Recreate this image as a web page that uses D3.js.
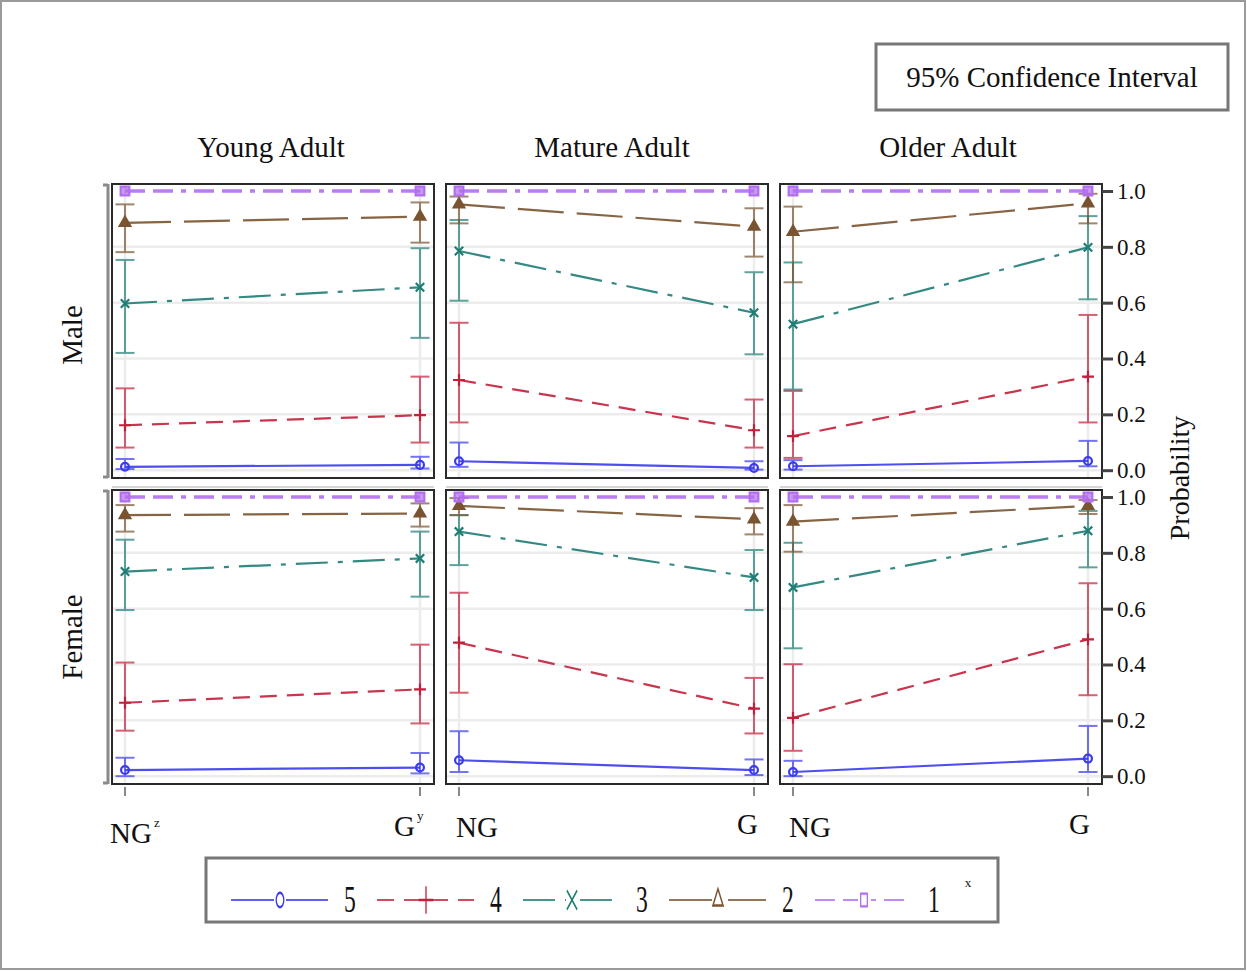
<!DOCTYPE html>
<html>
<head>
<meta charset="utf-8">
<script src="https://cdn.jsdelivr.net/npm/d3@7"></script>
<style>
  html, body { margin: 0; padding: 0; background: #fff; }
  svg { display: block; }
  text { font-family: "Liberation Serif", "Times New Roman", serif; fill: #111; }
</style>
</head>
<body>
<svg id="chart" width="1247" height="972"></svg>
<script>
// ---- categories ----
const columns = ["Young Adult", "Mature Adult", "Older Adult"];
const rows = ["Male", "Female"];
const groups = ["NG", "G"];
const levels = ["5", "4", "3", "2", "1"];
const yTicks = [0, 0.2, 0.4, 0.6, 0.8, 1.0];

// ---- cumulative probability estimates, [NG, G] for levels 5,4,3,2,1 ----
const maleYoungEst   = [[0.012, 0.019], [0.161, 0.197], [0.597, 0.655], [0.886, 0.908], [1, 1]];
const maleYoungLow   = [[0.004, 0.006], [0.081, 0.099], [0.420, 0.474], [0.781, 0.815], [1, 1]];
const maleYoungHigh  = [[0.040, 0.048], [0.293, 0.335], [0.753, 0.795], [0.952, 0.959], [1, 1]];

const maleMatureEst  = [[0.032, 0.008], [0.323, 0.143], [0.785, 0.564], [0.952, 0.872], [1, 1]];
const maleMatureLow  = [[0.012, 0.002], [0.171, 0.081], [0.607, 0.415], [0.884, 0.765], [1, 1]];
const maleMatureHigh = [[0.099, 0.032], [0.528, 0.253], [0.896, 0.709], [0.980, 0.938], [1, 1]];

const maleOlderEst   = [[0.014, 0.033], [0.122, 0.335], [0.523, 0.798], [0.854, 0.956], [1, 1]];
const maleOlderLow   = [[0.002, 0.014], [0.044, 0.171], [0.289, 0.612], [0.673, 0.884], [1, 1]];
const maleOlderHigh  = [[0.036, 0.105], [0.284, 0.556], [0.744, 0.910], [0.944, 0.990], [1, 1]];

const femaleYoungEst   = [[0.022, 0.031], [0.263, 0.311], [0.733, 0.780], [0.935, 0.941], [1, 1]];
const femaleYoungLow   = [[0.000, 0.010], [0.163, 0.189], [0.595, 0.643], [0.876, 0.894], [1, 1]];
const femaleYoungHigh  = [[0.066, 0.083], [0.407, 0.471], [0.847, 0.876], [0.971, 0.977], [1, 1]];

const femaleMatureEst  = [[0.057, 0.022], [0.478, 0.242], [0.876, 0.712], [0.968, 0.920], [1, 1]];
const femaleMatureLow  = [[0.015, 0.004], [0.299, 0.153], [0.756, 0.595], [0.935, 0.866], [1, 1]];
const femaleMatureHigh = [[0.161, 0.060], [0.657, 0.352], [0.935, 0.810], [0.996, 0.960], [1, 1]];

const femaleOlderEst   = [[0.015, 0.063], [0.209, 0.490], [0.676, 0.879], [0.912, 0.968], [1, 1]];
const femaleOlderLow   = [[0.000, 0.015], [0.091, 0.290], [0.458, 0.748], [0.804, 0.939], [1, 1]];
const femaleOlderHigh  = [[0.055, 0.180], [0.401, 0.691], [0.836, 0.950], [0.971, 0.989], [1, 1]];

// panel table built from the arrays above: [row][column]
const panels = [
  [ {est: maleYoungEst, lo: maleYoungLow, hi: maleYoungHigh},
    {est: maleMatureEst, lo: maleMatureLow, hi: maleMatureHigh},
    {est: maleOlderEst, lo: maleOlderLow, hi: maleOlderHigh} ],
  [ {est: femaleYoungEst, lo: femaleYoungLow, hi: femaleYoungHigh},
    {est: femaleMatureEst, lo: femaleMatureLow, hi: femaleMatureHigh},
    {est: femaleOlderEst, lo: femaleOlderLow, hi: femaleOlderHigh} ]
];

// ---- styles per level ----
const colors = {"5": "#3a3aee", "4": "#c21f3a", "3": "#1e7d74", "2": "#7a5430", "1": "#b26ef0"};
const dashes = {"5": null, "4": "17,10", "3": "32,10,5,10", "2": "46,13", "1": "20,8,20,8,5,8"};
const widths = {"5": 2.2, "4": 2.2, "3": 2.2, "2": 2.2, "1": 3.5};
const symbols = {"5": d3.symbolCircle, "4": d3.symbolPlus, "3": d3.symbolTimes, "2": d3.symbolTriangle, "1": d3.symbolSquare};

// ---- layout ----
const svg = d3.select("#chart");
const panelX = [112, 446, 780];
const panelY = [184, 490];
const headerShift = [-2, 5, 7];
const pw = 322, ph = 294;

const x = d3.scalePoint().domain(groups).range([13, 308]);
const y = d3.scaleLinear().domain([-0.028, 1.025]).range([ph, 0]);

// outer frame
svg.append("rect").attr("x", 1).attr("y", 1).attr("width", 1244).attr("height", 968)
  .attr("fill", "none").attr("stroke", "#9a9a9a").attr("stroke-width", 2);

// confidence interval box
svg.append("rect").attr("x", 876).attr("y", 44).attr("width", 352).attr("height", 66)
  .attr("fill", "#fff").attr("stroke", "#777").attr("stroke-width", 3);
svg.append("text").attr("x", 1052).attr("y", 87).attr("text-anchor", "middle")
  .style("font-size", "29px").text("95% Confidence Interval");

// column headers
columns.forEach((c, j) => {
  svg.append("text").attr("x", panelX[j] + pw / 2 + headerShift[j]).attr("y", 157)
    .attr("text-anchor", "middle").style("font-size", "29px").text(c);
});

// row headers
const rowCenters = [335, 637];
rows.forEach((r, i) => {
  svg.append("text").attr("transform", `translate(82,${rowCenters[i]}) rotate(-90)`)
    .attr("text-anchor", "middle").style("font-size", "29px").text(r);
});

// y axis title
svg.append("text").attr("transform", "translate(1189,478) rotate(-90)")
  .attr("text-anchor", "middle").style("font-size", "28px").text("Probability");

const line = d3.line().x((d, k) => x(groups[k])).y(d => y(d));

rows.forEach((r, i) => {
  columns.forEach((c, j) => {
    const p = panels[i][j];
    const g = svg.append("g").attr("transform", `translate(${panelX[j]},${panelY[i]})`);

    // strip separator line above each bottom-row panel
    if (i === 1) {
      svg.append("line").attr("x1", panelX[j]).attr("x2", panelX[j] + pw)
        .attr("y1", panelY[i] - 3).attr("y2", panelY[i] - 3)
        .attr("stroke", "#c8c8c8").attr("stroke-width", 1.5);
    }

    // grid
    g.selectAll(".hg").data(yTicks.slice(0, 5)).join("line")
      .attr("x1", 0).attr("x2", pw).attr("y1", d => y(d)).attr("y2", d => y(d))
      .attr("stroke", "#ececec").attr("stroke-width", 2.5);
    g.selectAll(".vg").data(groups).join("line")
      .attr("x1", d => x(d)).attr("x2", d => x(d)).attr("y1", 0).attr("y2", ph)
      .attr("stroke", "#ececec").attr("stroke-width", 2.5);

    // error bars
    levels.forEach((lv, s) => {
      if (lv === "1") return;
      groups.forEach((gr, k) => {
        const lo = p.lo[s][k], hi = p.hi[s][k];
        const eb = g.append("g").attr("stroke", colors[lv]).attr("stroke-width", 2).attr("opacity", 0.7);
        eb.append("line").attr("x1", x(gr)).attr("x2", x(gr)).attr("y1", y(lo)).attr("y2", y(hi));
        eb.append("line").attr("x1", x(gr) - 9.5).attr("x2", x(gr) + 9.5).attr("y1", y(lo)).attr("y2", y(lo));
        eb.append("line").attr("x1", x(gr) - 9.5).attr("x2", x(gr) + 9.5).attr("y1", y(hi)).attr("y2", y(hi));
      });
    });

    // lines and markers
    levels.forEach((lv, s) => {
      g.append("path").datum(p.est[s]).attr("d", line)
        .attr("fill", "none").attr("stroke", colors[lv]).attr("stroke-width", widths[lv])
        .attr("stroke-dasharray", dashes[lv]).attr("opacity", 0.9);
      groups.forEach((gr, k) => {
        const sym = d3.symbol().type(symbols[lv]).size(lv === "1" ? 75 : 48);
        g.append("path").attr("d", sym())
          .attr("transform", `translate(${x(gr)},${y(p.est[s][k])})`)
          .attr("fill", lv === "2" || lv === "1" ? colors[lv] : "none")
          .attr("fill-opacity", lv === "1" ? 0.7 : 1)
          .attr("stroke", colors[lv]).attr("stroke-width", 2.2);
      });
    });

    // frame
    g.append("rect").attr("width", pw).attr("height", ph).attr("fill", "none")
      .attr("stroke", "#2a2a2a").attr("stroke-width", 2);

    // left axis for first column
    if (j === 0) {
      const la = svg.append("g").attr("stroke", "#8a8a8a").attr("stroke-width", 3);
      la.append("line").attr("x1", 108).attr("x2", 108).attr("y1", panelY[i]).attr("y2", panelY[i] + ph);
      la.append("line").attr("x1", 103).attr("x2", 108).attr("y1", panelY[i] + 1).attr("y2", panelY[i] + 1);
      la.append("line").attr("x1", 103).attr("x2", 108).attr("y1", panelY[i] + ph - 1).attr("y2", panelY[i] + ph - 1);
    }

    // right axis for last column
    if (j === 2) {
      const ax = g.append("g").attr("transform", `translate(${pw},0)`)
        .call(d3.axisRight(y).tickValues(yTicks).tickFormat(d3.format(".1f")).tickSize(11).tickPadding(4));
      ax.select(".domain").remove();
      ax.selectAll(".tick line").attr("stroke", "#444").attr("stroke-width", 3);
      ax.selectAll(".tick text").style("font-size", "23px")
        .style("font-family", "'Liberation Serif', serif").attr("fill", "#222");
    }

    // bottom ticks
    if (i === 1) {
      g.selectAll(".bt").data(groups).join("line")
        .attr("x1", d => x(d)).attr("x2", d => x(d)).attr("y1", ph + 3).attr("y2", ph + 12)
        .attr("stroke", "#888").attr("stroke-width", 2);
    }
  });
});

// x tick labels
const tickLabels = [
  {col: 0, grp: "NG", sup: "z", dx: -15, y: 843},
  {col: 0, grp: "G", sup: "y", dx: -26, y: 836},
  {col: 1, grp: "NG", sup: null, dx: -3, y: 837},
  {col: 1, grp: "G", sup: null, dx: -17, y: 834},
  {col: 2, grp: "NG", sup: null, dx: -4, y: 837},
  {col: 2, grp: "G", sup: null, dx: -19, y: 834}
];
tickLabels.forEach(t => {
  const tx = svg.append("text").attr("x", panelX[t.col] + x(t.grp) + t.dx).attr("y", t.y)
    .style("font-size", "29px").text(t.grp);
  if (t.sup) {
    tx.append("tspan").attr("dy", -16).attr("dx", 2).style("font-size", "13px").text(t.sup);
  }
});

// legend
svg.append("rect").attr("x", 206).attr("y", 858).attr("width", 792).attr("height", 64)
  .attr("fill", "#fff").attr("stroke", "#777").attr("stroke-width", 3);
const legendY = 900;
levels.forEach((lv, i) => {
  const x0 = 231 + i * 146;
  const lg = svg.append("g");
  lg.append("line").attr("x1", x0).attr("x2", x0 + 97).attr("y1", legendY).attr("y2", legendY)
    .attr("stroke", colors[lv]).attr("stroke-width", 2).attr("stroke-dasharray", dashes[lv])
    .attr("opacity", 0.8);
  const sym = d3.symbol().type(symbols[lv]).size(lv === "3" || lv === "4" ? 70 : 45);
  lg.append("rect").attr("x", x0 + 43).attr("y", legendY - 12).attr("width", 12).attr("height", 24).attr("fill", "#fff");
  lg.append("path").attr("d", sym())
    .attr("transform", `translate(${x0 + 49},${legendY}) scale(1,1.9)`)
    .attr("fill", "none").attr("stroke", colors[lv]).attr("stroke-width", 1.3);
  lg.append("text").attr("transform", `translate(${x0 + 119},${legendY + 12}) scale(0.62,1)`)
    .attr("text-anchor", "middle").style("font-size", "38px").text(lv);
});
svg.append("text").attr("x", 968).attr("y", 887).attr("text-anchor", "middle")
  .style("font-size", "13px").text("x");
</script>
</body>
</html>
